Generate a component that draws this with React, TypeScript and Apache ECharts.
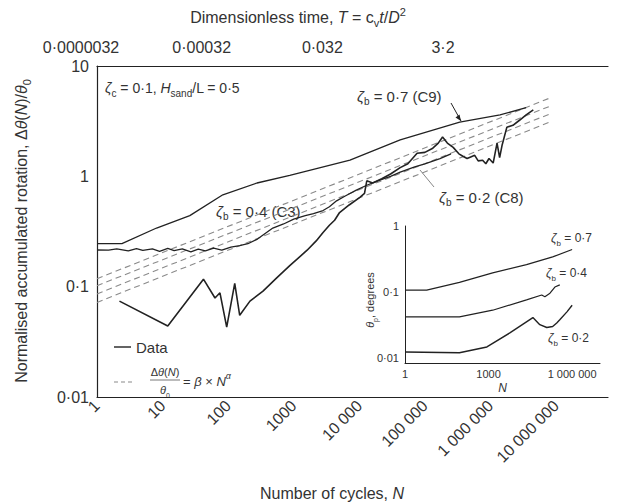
import React, { useEffect, useRef } from "react";
import * as echarts from "echarts";

// ---------- tick labels ----------
const xTickLabels = ["1", "10", "100", "1000", "10 000", "100 000", "1 000 000", "10 000 000"]; // 10^0..10^7
const yTickLabels = ["0·01", "0·1", "1", "10"]; // 10^-2..10^1
const topTickLabels = ["0·0000032", "", "0·00032", "", "0·032", "", "3·2"]; // T at N = 10^0..10^6
const insetXTickLabels = ["1", "", "", "1000", "", "", "1 000 000", ""];
const insetYTickLabels = ["0·01", "0·1", "1"]; // 10^-2..10^0

// ---------- main plot data: [N, Δθ(N)/θ0] ----------
const c9: [number, number][] = [
  [1, 0.246], [2.4, 0.246], [8.1, 0.34], [26, 0.44], [83, 0.68], [275, 0.87], [870, 1.02],
  [7200, 1.4], [42000, 2.14], [340000, 3.1], [1400000, 3.6], [3500000, 4.2],
];

const c3: [number, number][] = [
  [1, 0.215], [1.5, 0.214], [2, 0.22], [3, 0.211], [4, 0.221], [5, 0.213], [7, 0.22], [9, 0.209],
  [12, 0.222], [15, 0.212], [20, 0.22], [27, 0.207], [35, 0.219], [45, 0.211], [60, 0.224], [80, 0.214],
  [110, 0.228], [150, 0.236], [200, 0.245], [280, 0.27], [480, 0.34], [700, 0.37], [1000, 0.41],
  [1500, 0.44], [2000, 0.46], [2800, 0.49], [3500, 0.53], [4500, 0.6], [6000, 0.66], [9000, 0.75],
  [13000, 0.83], [20000, 0.92], [30000, 1.0], [42000, 1.09], [70000, 1.22], [100000, 1.3],
  [170000, 1.45], [250000, 1.6],
];

const c8: [number, number][] = [
  [2.2, 0.074], [12, 0.044], [42, 0.117], [63, 0.079], [75, 0.088], [95, 0.043], [126, 0.107],
  [150, 0.055], [215, 0.074], [340, 0.091], [550, 0.12], [870, 0.155], [1600, 0.214], [2200, 0.26],
  [2800, 0.31], [3500, 0.36], [4200, 0.4], [5000, 0.47], [7000, 0.55], [10200, 0.645], [12000, 0.7],
  [13000, 0.91], [16000, 0.87], [22000, 0.95], [30000, 1.05], [42000, 1.2], [55000, 1.3],
  [76000, 1.62], [100000, 1.65], [132000, 1.8], [160000, 2.0], [186000, 2.27], [220000, 2.0],
  [270000, 1.83], [330000, 1.6], [380000, 1.52], [440000, 1.45], [500000, 1.5], [575000, 1.55],
  [650000, 1.38], [760000, 1.4], [850000, 1.3], [950000, 1.45], [1100000, 1.32], [1260000, 2.0],
  [1380000, 1.48], [1500000, 1.9], [1780000, 2.79], [2200000, 2.9], [2800000, 3.24],
  [3500000, 3.6], [4500000, 4.0],
];

// power-law fits Δθ/θ0 = β × N^α (end points)
const fit1: [number, number][] = [[1, 0.118], [7900000, 5.1]];
const fit2: [number, number][] = [[1, 0.102], [7900000, 4.3]];
const fit3: [number, number][] = [[1, 0.086], [7900000, 3.66]];
const fit4: [number, number][] = [[1, 0.072], [7900000, 3.09]];

// ---------- inset data: [N, θp (degrees)] ----------
const inset07: [number, number][] = [
  [1, 0.107], [6, 0.107], [90, 0.14], [1400, 0.195], [23000, 0.26], [200000, 0.34], [1000000, 0.44],
];
const inset04: [number, number][] = [
  [1, 0.042], [90, 0.042], [1400, 0.053], [23000, 0.076], [81000, 0.09], [105000, 0.085],
  [160000, 0.096], [240000, 0.119], [360000, 0.128],
];
const inset02: [number, number][] = [
  [1, 0.0123], [90, 0.012], [870, 0.0147], [5800, 0.024], [39000, 0.041], [69000, 0.032],
  [123000, 0.029], [200000, 0.03], [280000, 0.034], [360000, 0.038], [650000, 0.05], [1000000, 0.063],
];

const TEXT = "#333";
const LINE = "#222";
const FONT = "'Liberation Sans', Arial, sans-serif";

function logLabel(labels: string[], offset: number) {
  return (v: number) => {
    const e = Math.log10(v);
    const r = Math.round(e);
    if (Math.abs(e - r) > 1e-6) return "";
    return labels[r - offset] ?? "";
  };
}

const richBase = (size: number) => ({
  n: { fontSize: size, fontFamily: FONT, color: TEXT },
  i: { fontSize: size, fontFamily: FONT, color: TEXT, fontStyle: "italic" },
  g: { fontSize: size, fontFamily: FONT, color: TEXT, fontStyle: "italic" },
  s: { fontSize: Math.round(size * 0.68), fontFamily: FONT, color: TEXT, verticalAlign: "bottom", padding: [0, 0, -3, 0] },
  si: { fontSize: Math.round(size * 0.68), fontFamily: FONT, color: TEXT, fontStyle: "italic", verticalAlign: "bottom", padding: [0, 0, -3, 0] },
  p: { fontSize: Math.round(size * 0.68), fontFamily: FONT, color: TEXT, verticalAlign: "top", padding: [-3, 0, 0, 0] },
  pi: { fontSize: Math.round(size * 0.68), fontFamily: FONT, color: TEXT, fontStyle: "italic", verticalAlign: "top", padding: [-3, 0, 0, 0] },
});

function txt(x: number, y: number, text: string, size: number, align = "left", extra: any = {}) {
  return {
    type: "text",
    x,
    y,
    silent: true,
    ...extra,
    style: {
      text,
      fill: TEXT,
      fontSize: size,
      fontFamily: FONT,
      align,
      textAlign: align,
      verticalAlign: "middle",
      textVerticalAlign: "middle",
      rich: richBase(size),
    },
  };
}

function seg(x1: number, y1: number, x2: number, y2: number, color = LINE, width = 1.2, dash?: number[]) {
  return {
    type: "line",
    silent: true,
    shape: { x1, y1, x2, y2 },
    style: { stroke: color, lineWidth: width, lineDash: dash },
  };
}

function lineSeries(data: [number, number][], xi: number, yi: number, width = 1.2, dashed = false) {
  return {
    type: "line",
    xAxisIndex: xi,
    yAxisIndex: yi,
    data,
    showSymbol: false,
    symbol: "none",
    silent: true,
    lineStyle: dashed
      ? { color: "#8a8a8a", width: 1.1, type: [6, 4] }
      : { color: LINE, width },
    z: dashed ? 2 : 3,
  };
}

export default function App() {
  const ref = useRef<HTMLDivElement>(null);

  useEffect(() => {
    if (!ref.current) return;
    const chart = echarts.init(ref.current, undefined, { renderer: "svg" });

    const axisLine = { show: true, onZero: false, lineStyle: { color: LINE, width: 1.2 } };

    chart.setOption({
      animation: false,
      backgroundColor: "#ffffff",
      textStyle: { fontFamily: FONT },
      grid: [
        { left: 97, top: 66, right: 17, bottom: 107 },
        { left: 81, top: 66, width: 362, height: 10 },
        { left: 405, top: 226, width: 195, height: 137 },
      ],
      xAxis: [
        {
          type: "log", gridIndex: 0, min: 1, max: 6.2e7, splitNumber: 8,
          axisLine, axisTick: { show: false }, splitLine: { show: false },
          axisLabel: {
            rotate: 45, margin: 6, interval: 0, fontSize: 16, color: TEXT, fontFamily: FONT,
            formatter: logLabel(xTickLabels, 0),
          },
        },
        {
          type: "log", gridIndex: 0, position: "top", min: 1, max: 6.2e7,
          axisLine, axisTick: { show: false }, splitLine: { show: false }, axisLabel: { show: false },
        },
        {
          type: "log", gridIndex: 1, position: "top", min: 1, max: 1e6, splitNumber: 6,
          axisLine: { show: false }, axisTick: { show: false }, splitLine: { show: false },
          axisLabel: {
            margin: 11, interval: 0, fontSize: 16, color: TEXT, fontFamily: FONT,
            showMinLabel: true, showMaxLabel: true,
            formatter: logLabel(topTickLabels, 0),
          },
        },
        {
          type: "log", gridIndex: 2, min: 1, max: 1e7, splitNumber: 7,
          axisLine: { show: true, onZero: false, lineStyle: { color: LINE, width: 1 } },
          axisTick: { show: false }, splitLine: { show: false },
          axisLabel: {
            margin: 5, interval: 0, fontSize: 11, color: TEXT, fontFamily: FONT,
            formatter: logLabel(insetXTickLabels, 0),
          },
          name: "N", nameLocation: "middle", nameGap: 19,
          nameTextStyle: { fontStyle: "italic", fontSize: 12, color: TEXT, fontFamily: FONT },
        },
      ],
      yAxis: [
        {
          type: "log", gridIndex: 0, min: 0.01, max: 10, splitNumber: 3,
          axisLine, axisTick: { show: false }, splitLine: { show: false },
          axisLabel: {
            margin: 8, fontSize: 16, color: TEXT, fontFamily: FONT,
            formatter: logLabel(yTickLabels, -2),
          },
        },
        { type: "value", gridIndex: 1, show: false },
        {
          type: "log", gridIndex: 2, min: 0.0084, max: 1, splitNumber: 2,
          axisLine: { show: true, onZero: false, lineStyle: { color: LINE, width: 1 } },
          axisTick: { show: false }, splitLine: { show: false },
          axisLabel: {
            margin: 6, fontSize: 11, color: TEXT, fontFamily: FONT,
            formatter: logLabel(insetYTickLabels, -2),
          },
        },
      ],
      series: [
        lineSeries(fit1, 0, 0, 1, true),
        lineSeries(fit2, 0, 0, 1, true),
        lineSeries(fit3, 0, 0, 1, true),
        lineSeries(fit4, 0, 0, 1, true),
        lineSeries(c9, 0, 0, 1.3),
        lineSeries(c3, 0, 0, 1.3),
        lineSeries(c8, 0, 0, 1.6),
        lineSeries(inset07, 3, 2, 1.2),
        lineSeries(inset04, 3, 2, 1.2),
        lineSeries(inset02, 3, 2, 1.4),
      ],
      graphic: [
        // axis titles
        txt(298, 17, "{n|Dimensionless time, }{i|T}{n| = c}{s|v}{i|t}{n|/}{i|D}{p|2}", 16, "center"),
        txt(332, 493, "{n|Number of cycles, }{i|N}", 16, "center"),
        txt(21, 231, "{n|Normalised accumulated rotation, Δ}{i|θ}{n|(}{i|N}{n|)/}{i|θ}{s|0}", 16, "center", { rotation: Math.PI / 2 }),
        txt(370, 300, "{i|θ}{s|p}{n|, degrees}", 11, "center", { rotation: Math.PI / 2 }),
        // annotations
        txt(105, 88, "{g|ζ}{s|c}{n| = 0·1, }{i|H}{s|sand}{n|/L = 0·5}", 14),
        txt(357, 96, "{g|ζ}{s|b}{n| = 0·7 (C9)}", 15),
        seg(451, 103, 461, 121, LINE, 1),
        { type: "polygon", silent: true, shape: { points: [[461, 121], [459.5, 114.6], [455.5, 117.6]] }, style: { fill: LINE } },
        txt(216, 211, "{g|ζ}{s|b}{n| = 0·4 (C3)}", 15),
        txt(439, 197, "{g|ζ}{s|b}{n| = 0·2 (C8)}", 15),
        seg(420, 170, 434, 187, "#888", 1),
        // inset annotations
        txt(551, 238, "{g|ζ}{s|b}{n| = 0·7}", 12),
        txt(546, 273, "{g|ζ}{s|b}{n| = 0·4}", 12),
        txt(548, 338, "{g|ζ}{s|b}{n| = 0·2}", 12),
        // legend
        seg(114, 347, 131, 347, LINE, 1.4),
        txt(136, 347, "Data", 15),
        seg(114, 382, 133, 382, "#8a8a8a", 1.1, [4, 3]),
        txt(165, 372, "{n|Δ}{i|θ}{n|(}{i|N}{n|)}", 11, "center"),
        seg(150, 380, 180, 380, "#555", 0.8),
        txt(165, 390, "{i|θ}{s|0}", 11, "center"),
        txt(183, 381, "{n|= }{i|β}{n| × }{i|N}{pi|α}", 13),
      ],
    });

    return () => chart.dispose();
  }, []);

  return (
    <div
      ref={ref}
      style={{ position: "fixed", left: 0, top: 0, width: 625, height: 504, background: "#fff" }}
    />
  );
}
